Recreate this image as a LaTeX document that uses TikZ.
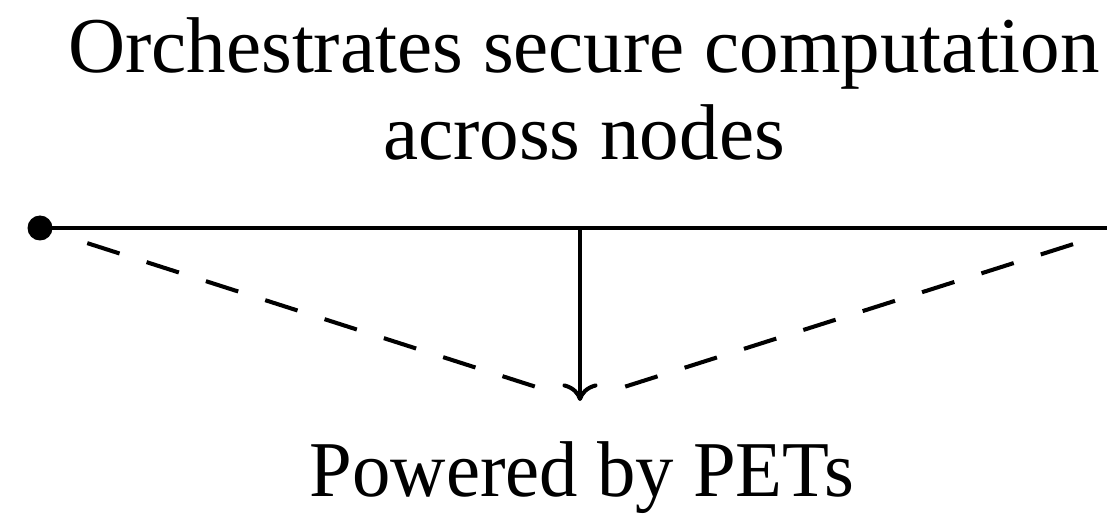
\documentclass[tikz,border=0pt]{standalone}
\usepackage{fontspec}
\setmainfont{Liberation Serif}
\usetikzlibrary{arrows.meta}

\tikzset{
  label text/.style={font=\fontsize{45}{54}\selectfont, inner sep=0pt, anchor=base},
  flow line/.style={line width=2.3pt},
  dash line/.style={flow line, dash pattern=on 19.3pt off 16.15pt, shorten <=0.95cm, shorten >=0.85cm},
}

\begin{document}
\begin{tikzpicture}[x=0.02cm,y=-0.02cm]
  \useasboundingbox (0,0) rectangle (1107,523);
  \clip (0,0) rectangle (1107,523);
  % texts
  \node[label text] (title1) at (584,73) {Orchestrates secure computation};
  \node[label text] (title2) at (584,160) {across nodes};
  \node[label text, xscale=0.97] (pets) at (582,497) {Powered by PETs};
  % points on the line
  \coordinate (start) at (40,228);
  \coordinate (mid) at (580,228);
  \coordinate (end) at (1124,228);
  \coordinate (tip) at (580,401);
  \draw[flow line] (start)--(end);
  \fill (start) circle (0.25cm);
  \draw[flow line,-{To[length=10pt,width=20pt]}] (mid)--(tip);
  \draw[dash line] (tip)--(start);
  \draw[dash line] (tip)--(end);
\end{tikzpicture}
\end{document}
